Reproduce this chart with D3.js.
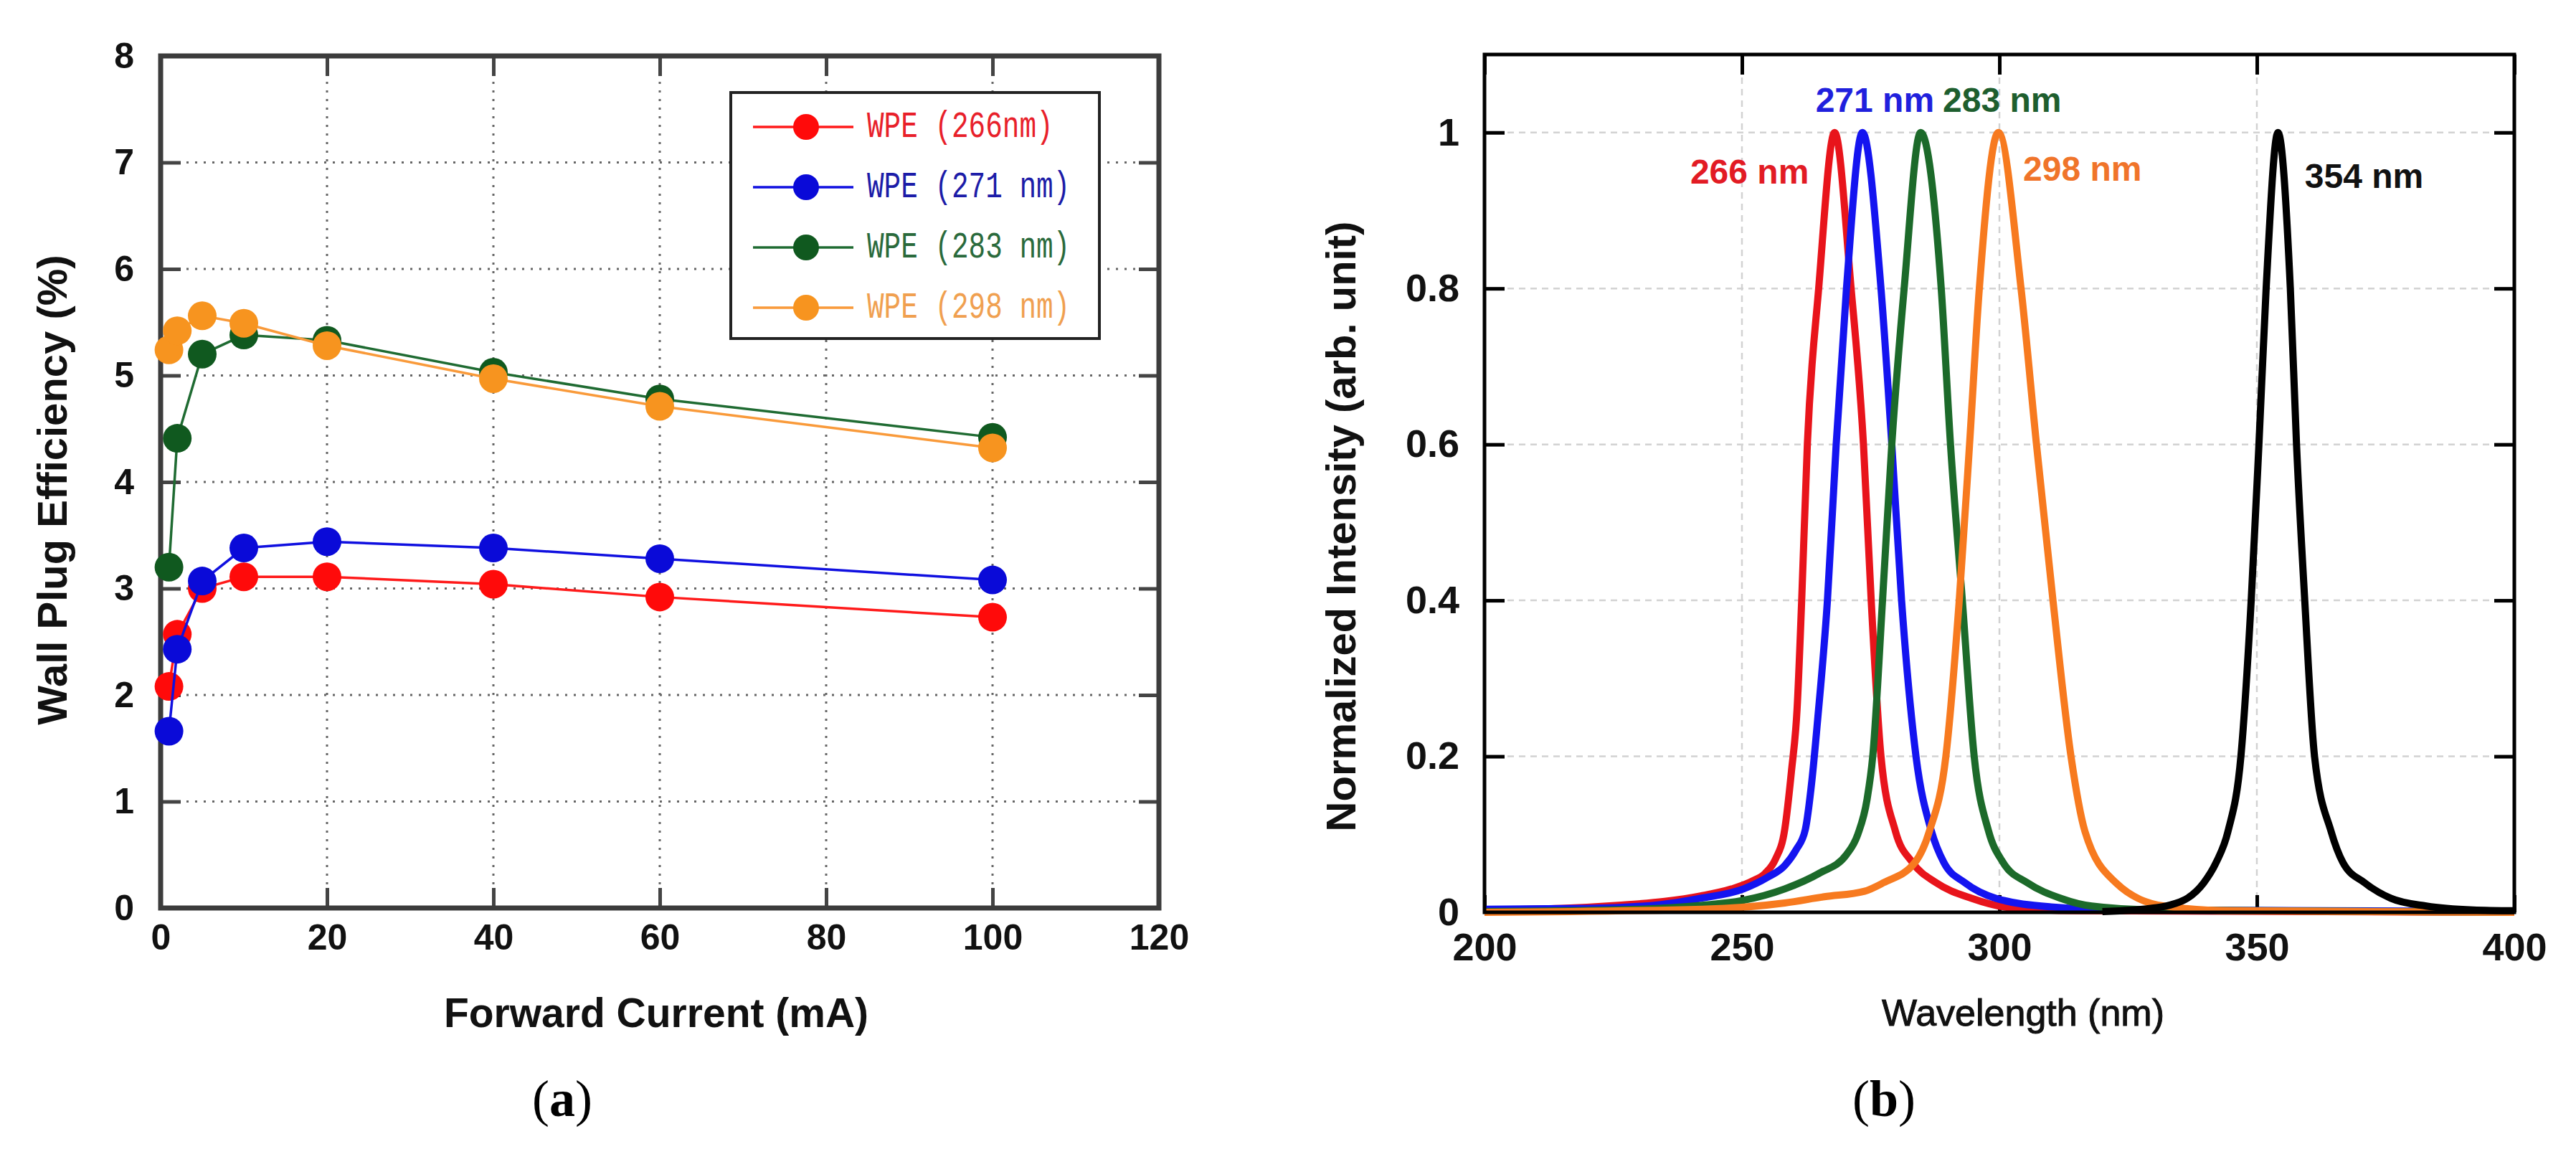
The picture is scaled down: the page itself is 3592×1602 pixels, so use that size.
<!DOCTYPE html>
<html>
<head>
<meta charset="utf-8">
<script src="https://cdn.jsdelivr.net/npm/d3@7"></script>
<style>
  body { margin: 0; background: #fff; }
  text { font-family: "Liberation Sans", Arial, sans-serif; }
</style>
</head>
<body>
<script>
/////////////////
// DATA (a)    //
/////////////////

const currents = [1, 2, 5, 10, 20, 40, 60, 100];
const wpe266 = [2.08, 2.57, 3.0, 3.11, 3.11, 3.04, 2.92, 2.73];
const wpe271 = [1.66, 2.43, 3.07, 3.38, 3.44, 3.38, 3.28, 3.08];
const wpe283 = [3.2, 4.41, 5.2, 5.38, 5.33, 5.03, 4.78, 4.42];
const wpe298 = [5.24, 5.42, 5.56, 5.49, 5.28, 4.97, 4.71, 4.32];
const wpeNames = ["WPE (266nm)", "WPE (271 nm)", "WPE (283 nm)", "WPE (298 nm)"];
const currentTicks = [0, 20, 40, 60, 80, 100, 120];
const wpeTicks = [0, 1, 2, 3, 4, 5, 6, 7, 8];

/////////////////
// DATA (b)    //
/////////////////

// [wavelength nm, normalized intensity]
const spec266 = [[200, 0.003], [215, 0.005], [226, 0.009], [235, 0.014], [242, 0.021], [248, 0.03], [252, 0.04], [254.5, 0.05], [256.5, 0.068], [258.3, 0.106], [259.6, 0.18], [260.7, 0.26], [261.6, 0.4], [262.7, 0.6], [264.9, 0.8], [268, 1.0], [271.2, 0.8], [273.6, 0.6], [275.1, 0.4], [277, 0.2], [279.8, 0.104], [283.1, 0.064], [287.7, 0.038], [294.6, 0.018], [302, 0.006], [315, 0.002], [400, 0]];
const spec271 = [[200, 0.004], [220, 0.005], [234.3, 0.01], [242, 0.018], [250.3, 0.03], [255, 0.045], [258.3, 0.06], [260.5, 0.08], [262.3, 0.106], [263.6, 0.17], [264.7, 0.247], [266.6, 0.4], [268.3, 0.6], [270.3, 0.8], [273.4, 1.0], [277, 0.8], [279.1, 0.6], [281, 0.4], [283.8, 0.2], [286.8, 0.104], [289.2, 0.064], [293.3, 0.038], [299.3, 0.018], [310, 0.007], [325, 0.003], [400, 0.001]];
const spec283 = [[200, 0.001], [230, 0.004], [242.3, 0.009], [250, 0.015], [258.3, 0.03], [265, 0.05], [270.3, 0.074], [272.5, 0.1], [274.3, 0.145], [275.4, 0.2], [277.3, 0.4], [279.1, 0.6], [281.5, 0.8], [284.7, 1.0], [288.7, 0.8], [290.5, 0.6], [292.8, 0.4], [295.1, 0.2], [297.9, 0.104], [300.7, 0.064], [305.4, 0.038], [311.9, 0.018], [317.9, 0.008], [330, 0.003], [400, 0]];
const spec298 = [[200, 0], [242.3, 0.004], [258.3, 0.012], [266, 0.02], [273.8, 0.027], [277.5, 0.038], [283.6, 0.064], [286.4, 0.104], [289.6, 0.2], [292.2, 0.4], [294.2, 0.6], [296.1, 0.8], [299.8, 1.0], [304.2, 0.8], [307.2, 0.6], [310.4, 0.4], [313.9, 0.2], [316.6, 0.104], [322.6, 0.038], [332, 0.008], [345, 0.002], [400, 0]];
const spec354 = [[320, 0.001], [330.6, 0.006], [334, 0.011], [336.5, 0.018], [339.7, 0.038], [342.1, 0.064], [344.4, 0.104], [346.9, 0.2], [348.9, 0.4], [350.4, 0.6], [351.8, 0.8], [354.1, 1.0], [356.5, 0.8], [357.7, 0.6], [359.3, 0.4], [361.2, 0.2], [364.4, 0.104], [366.7, 0.064], [370.9, 0.038], [376, 0.018], [382.9, 0.008], [392, 0.003], [400, 0.002]];
const peakLabels = ["266 nm", "271 nm", "283 nm", "298 nm", "354 nm"];
// label anchor in data units: [wavelength, intensity]
const peakLabelAt = [[263, 0.95], [264.3, 1.042], [289, 1.042], [304.6, 0.953], [359.3, 0.944]];
const wavelengthTicks = [200, 250, 300, 350, 400];
const intensityTicks = [0, 0.2, 0.4, 0.6, 0.8, 1];

// Styles
const wpeLineColors = ["#ff1a1a", "#1010e0", "#1f6b32", "#f99a3a"];
const wpeDotColors = ["#ff0a0a", "#0a0ad8", "#10591f", "#f7941f"];
const wpeTextColors = ["#e8202a", "#1c1ca8", "#2a6a3c", "#f0a050"];
const specColors = ["#e8141b", "#1414f0", "#1c6a2a", "#f77a1f", "#000000"];
const labelColors = ["#e21b24", "#2020dd", "#1e5e2e", "#f0742a", "#111111"];
const labelAnchor = ["end", "start", "start", "start", "start"];

// Set up container
const svg = d3
  .select("body")
  .append("svg")
  .attr("width", 3592)
  .attr("height", 1602)
  .style("display", "block");

svg.append("rect").attr("width", 3592).attr("height", 1602).attr("fill", "#fff");

///////////////////////////
// PANEL (a): WPE vs mA  //
///////////////////////////

const A = { left: 224, right: 1616, top: 78, bottom: 1266 };
const xa = d3.scaleLinear().domain([0, 120]).range([A.left, A.right]);
const ya = d3.scaleLinear().domain([0, 8]).range([A.bottom, A.top]);
const ga = svg.append("g");

// dotted grid
ga.append("g")
  .selectAll("line")
  .data(currentTicks.slice(1, -1))
  .join("line")
  .attr("x1", d => xa(d))
  .attr("x2", d => xa(d))
  .attr("y1", A.top)
  .attr("y2", A.bottom)
  .attr("stroke", "#666")
  .attr("stroke-width", 3)
  .attr("stroke-dasharray", "3,9");
ga.append("g")
  .selectAll("line")
  .data(wpeTicks.slice(1, -1))
  .join("line")
  .attr("x1", A.left)
  .attr("x2", A.right)
  .attr("y1", d => ya(d))
  .attr("y2", d => ya(d))
  .attr("stroke", "#666")
  .attr("stroke-width", 3)
  .attr("stroke-dasharray", "3,9");

// axes with inward ticks
function styleAxis(g, color, fontSize) {
  g.select(".domain").remove();
  g.selectAll(".tick line").attr("stroke", color).attr("stroke-width", 5);
  g.selectAll(".tick text")
    .attr("fill", "#111")
    .style("font-size", fontSize + "px")
    .style("font-weight", "bold")
    .style("font-family", '"Liberation Sans", Arial, sans-serif');
}

ga.append("g")
  .attr("transform", `translate(0,${A.bottom})`)
  .call(d3.axisBottom(xa).tickValues(currentTicks).tickSize(-28).tickPadding(22))
  .call(g => styleAxis(g, "#444", 50));
ga.append("g")
  .attr("transform", `translate(0,${A.top})`)
  .call(d3.axisTop(xa).tickValues(currentTicks).tickSize(-28).tickFormat(""))
  .call(g => styleAxis(g, "#444", 50));
ga.append("g")
  .attr("transform", `translate(${A.left},0)`)
  .call(d3.axisLeft(ya).tickValues(wpeTicks).tickSize(-28).tickPadding(37))
  .call(g => styleAxis(g, "#444", 50));
ga.append("g")
  .attr("transform", `translate(${A.right},0)`)
  .call(d3.axisRight(ya).tickValues(wpeTicks).tickSize(-28).tickFormat(""))
  .call(g => styleAxis(g, "#444", 50));

ga.append("rect")
  .attr("x", A.left)
  .attr("y", A.top)
  .attr("width", A.right - A.left)
  .attr("height", A.bottom - A.top)
  .attr("fill", "none")
  .attr("stroke", "#3c3c3c")
  .attr("stroke-width", 7);

// series
const wpeSeries = [wpe266, wpe271, wpe283, wpe298];
const lineA = d3.line().x((d, i) => xa(currents[i])).y(d => ya(d));
wpeSeries.forEach(function(vals, k) {
  ga.append("path")
    .datum(vals)
    .attr("d", lineA)
    .attr("fill", "none")
    .attr("stroke", wpeLineColors[k])
    .attr("stroke-width", 3.5);
  ga.append("g")
    .selectAll("circle")
    .data(vals)
    .join("circle")
    .attr("cx", (d, i) => xa(currents[i]))
    .attr("cy", d => ya(d))
    .attr("r", 20)
    .attr("fill", wpeDotColors[k]);
});

// legend
const leg = ga.append("g");
leg.append("rect")
  .attr("x", 1019)
  .attr("y", 129)
  .attr("width", 514)
  .attr("height", 343)
  .attr("fill", "#fff")
  .attr("stroke", "#222")
  .attr("stroke-width", 4);
wpeNames.forEach(function(name, k) {
  const cy = 177 + k * 84;
  leg.append("line")
    .attr("x1", 1050).attr("x2", 1190)
    .attr("y1", cy).attr("y2", cy)
    .attr("stroke", wpeLineColors[k])
    .attr("stroke-width", 3.5);
  leg.append("circle")
    .attr("cx", 1124).attr("cy", cy).attr("r", 18)
    .attr("fill", wpeDotColors[k]);
  leg.append("text")
    .attr("x", 1209)
    .attr("y", cy)
    .attr("dominant-baseline", "central")
    .attr("textLength", name.length * 23.6)
    .attr("lengthAdjust", "spacingAndGlyphs")
    .style("font-family", '"Liberation Mono", "DejaVu Sans Mono", monospace')
    .style("font-size", "52px")
    .attr("fill", wpeTextColors[k])
    .text(name);
});

// titles
ga.append("text")
  .attr("x", 915)
  .attr("y", 1412)
  .attr("text-anchor", "middle")
  .attr("dominant-baseline", "central")
  .style("font-size", "57px")
  .style("font-weight", "bold")
  .attr("fill", "#111")
  .text("Forward Current (mA)");
ga.append("text")
  .attr("transform", "translate(72,683) rotate(-90)")
  .attr("text-anchor", "middle")
  .attr("dominant-baseline", "central")
  .style("font-size", "58px")
  .style("font-weight", "bold")
  .attr("fill", "#111")
  .text("Wall Plug Efficiency (%)");

/////////////////////////////////
// PANEL (b): emission spectra //
/////////////////////////////////

const B = { left: 2070, right: 3506, top: 76, bottom: 1272 };
const xb = d3.scaleLinear().domain([200, 400]).range([B.left, B.right]);
const yb = d3.scaleLinear().domain([0, 1.1]).range([B.bottom, B.top]);
const gb = svg.append("g");

// dashed light grid
gb.append("g")
  .selectAll("line")
  .data(wavelengthTicks.slice(1, -1))
  .join("line")
  .attr("x1", d => xb(d))
  .attr("x2", d => xb(d))
  .attr("y1", B.top)
  .attr("y2", B.bottom)
  .attr("stroke", "#d2d2d2")
  .attr("stroke-width", 2.5)
  .attr("stroke-dasharray", "9,7");
gb.append("g")
  .selectAll("line")
  .data(intensityTicks.slice(1))
  .join("line")
  .attr("x1", B.left)
  .attr("x2", B.right)
  .attr("y1", d => yb(d))
  .attr("y2", d => yb(d))
  .attr("stroke", "#d2d2d2")
  .attr("stroke-width", 2.5)
  .attr("stroke-dasharray", "9,7");

gb.append("g")
  .attr("transform", `translate(0,${B.bottom})`)
  .call(d3.axisBottom(xb).tickValues(wavelengthTicks).tickSize(-24).tickPadding(29))
  .call(g => styleAxis(g, "#000", 54));
gb.append("g")
  .attr("transform", `translate(0,${B.top})`)
  .call(d3.axisTop(xb).tickValues(wavelengthTicks).tickSize(-28).tickFormat(""))
  .call(g => styleAxis(g, "#000", 54));
gb.append("g")
  .attr("transform", `translate(${B.left},0)`)
  .call(d3.axisLeft(yb).tickValues(intensityTicks).tickSize(-28).tickPadding(35).tickFormat(d3.format("~g")))
  .call(g => styleAxis(g, "#000", 54));
gb.append("g")
  .attr("transform", `translate(${B.right},0)`)
  .call(d3.axisRight(yb).tickValues(intensityTicks).tickSize(-28).tickFormat(""))
  .call(g => styleAxis(g, "#000", 54));

// spectra
const spectra = [spec266, spec271, spec283, spec298, spec354];
const lineB = d3
  .line()
  .x(d => xb(d[0]))
  .y(d => yb(d[1]))
  .curve(d3.curveMonotoneX);
spectra.forEach(function(s, k) {
  gb.append("path")
    .datum(s)
    .attr("d", lineB)
    .attr("fill", "none")
    .attr("stroke", specColors[k])
    .attr("stroke-width", 10)
    .attr("stroke-linejoin", "round");
});

gb.append("rect")
  .attr("x", B.left)
  .attr("y", B.top)
  .attr("width", B.right - B.left)
  .attr("height", B.bottom - B.top)
  .attr("fill", "none")
  .attr("stroke", "#000")
  .attr("stroke-width", 5);

// peak labels
gb.append("g")
  .selectAll("text")
  .data(peakLabels)
  .join("text")
  .attr("x", (d, i) => xb(peakLabelAt[i][0]))
  .attr("y", (d, i) => yb(peakLabelAt[i][1]))
  .attr("text-anchor", (d, i) => labelAnchor[i])
  .attr("dominant-baseline", "central")
  .style("font-size", "48px")
  .style("font-weight", "bold")
  .attr("fill", (d, i) => labelColors[i])
  .text(d => d);

// titles
gb.append("text")
  .attr("x", 2821)
  .attr("y", 1412)
  .attr("text-anchor", "middle")
  .attr("dominant-baseline", "central")
  .style("font-size", "52px")
  .attr("stroke", "#111")
  .attr("stroke-width", 1)
  .attr("fill", "#111")
  .text("Wavelength (nm)");
gb.append("text")
  .attr("transform", "translate(1869,734) rotate(-90)")
  .attr("text-anchor", "middle")
  .attr("dominant-baseline", "central")
  .style("font-size", "58px")
  .style("font-weight", "bold")
  .attr("fill", "#111")
  .text("Normalized Intensity (arb. unit)");

// panel captions: serif, bold letter inside plain parentheses
[["a", 784], ["b", 2627]].forEach(function(c) {
  const t = svg.append("text")
    .attr("x", c[1])
    .attr("y", 1532)
    .attr("text-anchor", "middle")
    .attr("dominant-baseline", "central")
    .style("font-family", '"Liberation Serif", "DejaVu Serif", serif')
    .style("font-size", "72px")
    .attr("fill", "#000");
  t.append("tspan").text("(");
  t.append("tspan").style("font-weight", "bold").text(c[0]);
  t.append("tspan").text(")");
});
</script>
</body>
</html>
